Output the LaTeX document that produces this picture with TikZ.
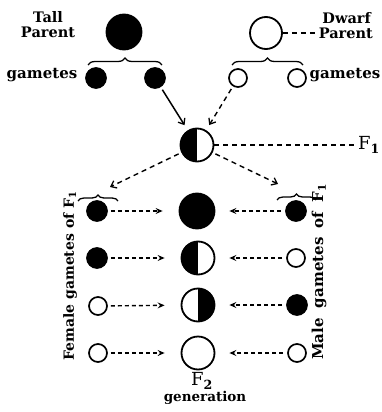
\documentclass[tikz,border=0pt]{standalone}
\usepackage{fontspec}
\setmainfont{DejaVu Serif}
\usetikzlibrary{arrows.meta,decorations.pathreplacing}
\begin{document}
\begin{tikzpicture}[x=1pt,y=-1pt,
  lbl/.style={font=\fontsize{15}{16}\selectfont\bfseries, inner sep=0},
  rot/.style={font=\fontsize{14}{14}\selectfont\bfseries, inner sep=0, rotate=90},
  flab/.style={font=\fontsize{18}{18}\selectfont, inner sep=0},
  bigc/.style={circle, draw, line width=1.8pt, minimum size=33pt, inner sep=0},
  smallc/.style={circle, draw, line width=1.7pt, minimum size=18pt, inner sep=0},
  blk/.style={fill=black},
  lhalf/.style={path picture={\fill (path picture bounding box.south west) rectangle (path picture bounding box.north);}},
  rhalf/.style={path picture={\fill (path picture bounding box.south east) rectangle (path picture bounding box.north);}},
  dsh/.style={dash pattern=on 5pt off 4pt, line width=1.4pt},
  barb/.style={-{Straight Barb[length=5pt,width=8pt,line width=1.3pt]}},
  rowarr/.style={dash pattern=on 4pt off 3pt, line width=1.4pt, -{Stealth[length=7pt,width=6pt,inset=2.5pt]}},
  brc/.style={decorate, decoration={brace, amplitude=7pt}, line width=1.3pt}
]
\useasboundingbox (0,0) rectangle (382,412);

% parents
\node[bigc, blk, minimum size=35pt] (TP) at (124,32) {};
\node[bigc, minimum size=32pt] (DP) at (266,33) {};
\node[lbl, align=center, font=\fontsize{14.5}{15}\selectfont\bfseries] (tall) at (48,25) {Tall\\Parent};
\node[lbl, anchor=east, font=\fontsize{14.5}{15}\selectfont\bfseries] (dwarf) at (371,18) {Dwarf};
\node[lbl, anchor=east, font=\fontsize{14.5}{15}\selectfont\bfseries] (dpar) at (373,33) {Parent};
\draw[dsh] (DP) -- (dpar);

% braces under parents
\draw[brc] (88,65) -- (162,65);
\draw[brc] (232,65) -- (303,65);

% gametes
\node[smallc, blk, minimum size=20pt] (g1) at (96,78) {};
\node[smallc, blk, minimum size=20pt] (g2) at (155,78) {};
\node[smallc] (g3) at (238,78) {};
\node[smallc] (g4) at (297,78) {};
\node[lbl] (gl) at (42,75) {gametes};
\node[lbl] (gr) at (345,75) {gametes};

% F1
\node[bigc, lhalf] (F1) at (197,145) {};
\node[flab] (f1lab) at (369,145) {F\textsubscript{\bfseries 1}};
\draw[dsh] (F1) -- (f1lab);
\draw[line width=1.5pt, barb, shorten >=6pt, shorten <=3pt] (g2) -- (F1);
\draw[dsh, barb, shorten >=6pt, shorten <=3pt] (g3) -- (F1);

% braces for F1 gametes
\coordinate (bl) at (110,187);
\coordinate (br) at (278,184);
\draw[dsh, barb, shorten <=3pt] (F1) -- (bl);
\draw[dsh, barb, shorten <=3pt] (F1) -- (br);
\draw[brc, decoration={amplitude=6pt}] (78,201) -- (118,201);
\draw[brc, decoration={amplitude=6pt}] (277,200) -- (316,200);

% F2 rows
\node[smallc, blk, minimum size=20pt] (l1) at (97,211) {};
\node[bigc, blk, minimum size=35pt] (c1) at (197,211) {};
\node[smallc, blk, minimum size=20pt] (r1) at (296,211) {};

\node[smallc, blk, minimum size=20pt] (l2) at (97,258) {};
\node[bigc, lhalf] (c2) at (198,258) {};
\node[smallc] (r2) at (296,258) {};

\node[smallc] (l3) at (98,306) {};
\node[bigc, rhalf] (c3) at (198,305) {};
\node[smallc, blk, minimum size=20pt] (r3) at (297,305) {};

\node[smallc] (l4) at (98,353) {};
\node[bigc] (c4) at (198,353) {};
\node[smallc] (r4) at (297,353) {};

\foreach \i in {1,2,3,4}{
  \draw[rowarr, shorten <=3pt, shorten >=16pt] (l\i) -- (c\i);
  \draw[rowarr, shorten <=4pt, shorten >=14pt] (r\i) -- (c\i);
}

% side labels
\node[rot] (fem) at (70,276) {Female gametes of F\textsubscript{1}};
\node[rot, font=\fontsize{15}{15}\selectfont\bfseries] (male) at (319,272) {Male\hspace{5pt} gametes\hspace{4pt} of\hspace{4pt} F\textsubscript{1}};

% F2 label
\node[flab] (f2lab) at (202,381) {F\textsubscript{\bfseries 2}};
\node[lbl, font=\fontsize{13.5}{14}\selectfont\bfseries] (gen) at (205,398) {generation};
\end{tikzpicture}
\end{document}
